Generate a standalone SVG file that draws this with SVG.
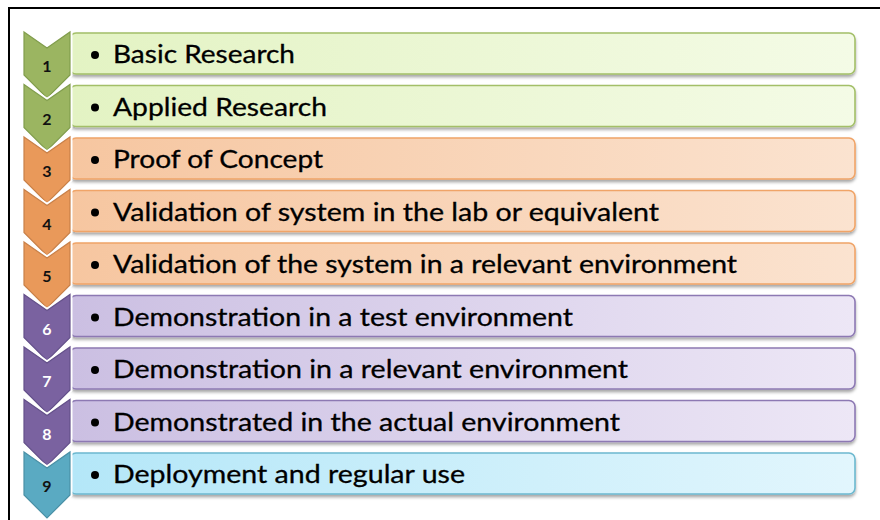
<svg xmlns="http://www.w3.org/2000/svg" xmlns:xlink="http://www.w3.org/1999/xlink" width="880" height="520" viewBox="0 0 880 520">
<style>
.box{stroke-width:1.6}
.bg{fill:url(#gG);stroke:#a3bf68}
.bo{fill:url(#gO);stroke:#f0a467}
.bp{fill:url(#gP);stroke:#8d79b3}
.bb{fill:url(#gB);stroke:#6cb8cf}
.cw{fill:none;stroke:#ffffff;stroke-width:5;stroke-linejoin:miter}
.cg{fill:#9bb561;stroke:#819d4c;stroke-width:1.2}
.co{fill:#e9995a;stroke:#c98048;stroke-width:1.2}
.cp{fill:#7a62a0;stroke:#64508a;stroke-width:1.2}
.cb{fill:#5aaac2;stroke:#4a90a6;stroke-width:1.2}
.num{font-family:Lato,"Liberation Sans",sans-serif;font-weight:bold;font-size:16px;text-anchor:middle;fill:#111}
.numw{fill:#ffffff}
.lbl{font-family:Lato,"Open Sans","Liberation Sans",sans-serif;font-size:25px;fill:#000;stroke:#000;stroke-width:0.3}
.dot{fill:#000}
</style>
<defs>
<linearGradient id="gG" x1="0" y1="0" x2="1" y2="0"><stop offset="0" stop-color="#e3f3c3"/><stop offset="1" stop-color="#f4fbe6"/></linearGradient>
<linearGradient id="gO" x1="0" y1="0" x2="1" y2="0"><stop offset="0" stop-color="#f6c6a0"/><stop offset="1" stop-color="#fbe3d0"/></linearGradient>
<linearGradient id="gP" x1="0" y1="0" x2="1" y2="0"><stop offset="0" stop-color="#cbbfe2"/><stop offset="1" stop-color="#ede7f6"/></linearGradient>
<linearGradient id="gB" x1="0" y1="0" x2="1" y2="0"><stop offset="0" stop-color="#b4e7f8"/><stop offset="1" stop-color="#e2f6fd"/></linearGradient>
<filter id="sh" x="-5%" y="-30%" width="110%" height="170%"><feDropShadow dx="0" dy="2.5" stdDeviation="1.6" flood-color="#000" flood-opacity="0.35"/></filter>
<polygon id="chev" points="0,0 23,16 46,0 46,43 23,66 0,43"/>
</defs>
<rect x="9" y="8" width="900" height="600" fill="#ffffff" stroke="#000000" stroke-width="2"/>
<g id="connectors"></g>
<g id="boxes">
<g id="row1"><rect class="box bg" x="70" y="33" width="785" height="41" rx="6" filter="url(#sh)"/><circle class="dot" cx="95" cy="55" r="4"/><text class="lbl" x="113" y="63" textLength="182" lengthAdjust="spacingAndGlyphs">Basic Research</text></g>
<g id="row2"><rect class="box bg" x="70" y="85.5" width="785" height="41" rx="6" filter="url(#sh)"/><circle class="dot" cx="95" cy="107.5" r="4"/><text class="lbl" x="113" y="115.5" textLength="214" lengthAdjust="spacingAndGlyphs">Applied Research</text></g>
<g id="row3"><rect class="box bo" x="70" y="138" width="785" height="41" rx="6" filter="url(#sh)"/><circle class="dot" cx="95" cy="160" r="4"/><text class="lbl" x="113" y="168" textLength="210" lengthAdjust="spacingAndGlyphs">Proof of Concept</text></g>
<g id="row4"><rect class="box bo" x="70" y="190.5" width="785" height="41" rx="6" filter="url(#sh)"/><circle class="dot" cx="95" cy="212.5" r="4"/><text class="lbl" x="113" y="220.5" textLength="546" lengthAdjust="spacingAndGlyphs">Validation of system in the lab or equivalent</text></g>
<g id="row5"><rect class="box bo" x="70" y="243" width="785" height="41" rx="6" filter="url(#sh)"/><circle class="dot" cx="95" cy="265" r="4"/><text class="lbl" x="113" y="273" textLength="624" lengthAdjust="spacingAndGlyphs">Validation of the system in a relevant environment</text></g>
<g id="row6"><rect class="box bp" x="70" y="295.5" width="785" height="41" rx="6" filter="url(#sh)"/><circle class="dot" cx="95" cy="317.5" r="4"/><text class="lbl" x="113" y="325.5" textLength="460" lengthAdjust="spacingAndGlyphs">Demonstration in a test environment</text></g>
<g id="row7"><rect class="box bp" x="70" y="348" width="785" height="41" rx="6" filter="url(#sh)"/><circle class="dot" cx="95" cy="370" r="4"/><text class="lbl" x="113" y="378" textLength="515" lengthAdjust="spacingAndGlyphs">Demonstration in a relevant environment</text></g>
<g id="row8"><rect class="box bp" x="70" y="400.5" width="785" height="41" rx="6" filter="url(#sh)"/><circle class="dot" cx="95" cy="422.5" r="4"/><text class="lbl" x="113" y="430.5" textLength="507" lengthAdjust="spacingAndGlyphs">Demonstrated in the actual environment</text></g>
<g id="row9"><rect class="box bb" x="70" y="453" width="785" height="41" rx="6" filter="url(#sh)"/><circle class="dot" cx="95" cy="475" r="4"/><text class="lbl" x="113" y="483" textLength="352" lengthAdjust="spacingAndGlyphs">Deployment and regular use</text></g>
</g>
<g id="chevrons">
<g id="chev1"><use xlink:href="#chev" x="24" y="32" class="cw"/><use xlink:href="#chev" x="24" y="32" class="cg"/><text class="num" x="47" y="72">1</text></g>
<g id="chev2"><use xlink:href="#chev" x="24" y="84.5" class="cw"/><use xlink:href="#chev" x="24" y="84.5" class="cg"/><text class="num" x="47" y="124.5">2</text></g>
<g id="chev3"><use xlink:href="#chev" x="24" y="137" class="cw"/><use xlink:href="#chev" x="24" y="137" class="co"/><text class="num" x="47" y="177">3</text></g>
<g id="chev4"><use xlink:href="#chev" x="24" y="189.5" class="cw"/><use xlink:href="#chev" x="24" y="189.5" class="co"/><text class="num" x="47" y="229.5">4</text></g>
<g id="chev5"><use xlink:href="#chev" x="24" y="242" class="cw"/><use xlink:href="#chev" x="24" y="242" class="co"/><text class="num" x="47" y="282">5</text></g>
<g id="chev6"><use xlink:href="#chev" x="24" y="294.5" class="cw"/><use xlink:href="#chev" x="24" y="294.5" class="cp"/><text class="num numw" x="47" y="334.5">6</text></g>
<g id="chev7"><use xlink:href="#chev" x="24" y="347" class="cw"/><use xlink:href="#chev" x="24" y="347" class="cp"/><text class="num numw" x="47" y="387">7</text></g>
<g id="chev8"><use xlink:href="#chev" x="24" y="399.5" class="cw"/><use xlink:href="#chev" x="24" y="399.5" class="cp"/><text class="num numw" x="47" y="439.5">8</text></g>
<g id="chev9"><use xlink:href="#chev" x="24" y="452" class="cw"/><use xlink:href="#chev" x="24" y="452" class="cb"/><text class="num" x="47" y="492">9</text></g>
</g>
</svg>
